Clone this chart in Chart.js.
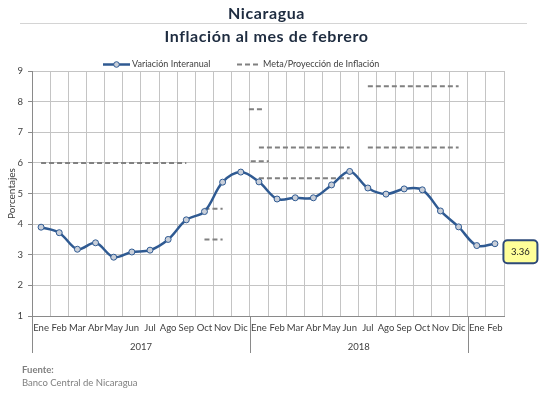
<!DOCTYPE html>
<html lang="es">
<head>
<meta charset="utf-8">
<title>Nicaragua - Inflación al mes de febrero</title>
<script src="https://cdn.jsdelivr.net/npm/chart.js@4.4.1/dist/chart.umd.min.js"></script>
<style>
  html, body { margin: 0; padding: 0; background: #ffffff; }
  #wrap { position: relative; width: 543px; height: 395px; }
</style>
</head>
<body>
<div id="wrap"><canvas id="inflacion-chart" width="543" height="395"></canvas></div>
<script>
// --- Datos ---
const meses = ['Ene','Feb','Mar','Abr','May','Jun','Jul','Ago','Sep','Oct','Nov','Dic',
               'Ene','Feb','Mar','Abr','May','Jun','Jul','Ago','Sep','Oct','Nov','Dic',
               'Ene','Feb'];
const anios = [ { label: '2017', desde: 0, hasta: 11 },
                { label: '2018', desde: 12, hasta: 23 },
                { label: '', desde: 24, hasta: 25 } ];
const yTicks = [1, 2, 3, 4, 5, 6, 7, 8, 9];

const variacionInteranual = [3.90, 3.72, 3.18, 3.39, 2.92, 3.09, 3.15, 3.50, 4.14, 4.41, 5.37, 5.70,
                             5.38, 4.82, 4.86, 4.86, 5.28, 5.72, 5.18, 4.98, 5.15, 5.12, 4.43, 3.91,
                             3.30, 3.36];

// Metas / proyecciones (null = sin dato)
const meta2017     = [6, 6, 6, 6, 6, 6, 6, 6, 6, null, null, null, null, null, null, null, null, null, null, null, null, null, null, null, null, null];
const metaOctAlta  = [null, null, null, null, null, null, null, null, null, 4.5, 4.5, null, null, null, null, null, null, null, null, null, null, null, null, null, null, null];
const metaOctBaja  = [null, null, null, null, null, null, null, null, null, 3.5, 3.5, null, null, null, null, null, null, null, null, null, null, null, null, null, null, null];
const meta2018Alta = [null, null, null, null, null, null, null, null, null, null, null, null, 6.5, 6.5, 6.5, 6.5, 6.5, 6.5, null, null, null, null, null, null, null, null];
const meta2018Baja = [null, null, null, null, null, null, null, null, null, null, null, null, 5.5, 5.5, 5.5, 5.5, 5.5, 5.5, null, null, null, null, null, null, null, null];
const proySegAlta  = [null, null, null, null, null, null, null, null, null, null, null, null, null, null, null, null, null, null, 8.5, 8.5, 8.5, 8.5, 8.5, 8.5, null, null];
const proySegBaja  = [null, null, null, null, null, null, null, null, null, null, null, null, null, null, null, null, null, null, 6.5, 6.5, 6.5, 6.5, 6.5, 6.5, null, null];
// Tramos cortos alrededor de dic-2017 / ene-2018 (posición en meses, valor)
const proyDicAlta = [ { x: 11.45, y: 7.75 }, { x: 12.25, y: 7.75 } ];
const proyDicBaja = [ { x: 11.55, y: 6.05 }, { x: 12.55, y: 6.05 } ];

const ultimoValor = 3.36;

// --- Colores ---
const colors = {
  serie: '#2F5A92',
  marcador: '#C9CFD9',
  meta: '#808080',
  grid: '#C4C4C4',
  eje: '#8A8A8A',
  texto: '#404040',
  titulo: '#1E2C40',
  fuente: '#7F7F7F',
  etiqueta: '#FFFF99',
};

const FONT = 'Lato, "Open Sans", "DejaVu Sans", sans-serif';

function metaDataset(data, xAxis) {
  return {
    label: 'Meta/Proyección de Inflación',
    data,
    xAxisID: xAxis || 'x',
    borderColor: colors.meta,
    borderWidth: 2,
    borderDash: [5, 3],
    pointRadius: 0,
    fill: false,
    spanGaps: false,
    tension: 0,
    order: 2,
  };
}

// --- Plugin: títulos, leyenda, años y fuente ---
const decoracion = {
  id: 'decoracion',
  afterDraw(chart) {
    const ctx = chart.ctx;
    const xs = chart.scales.x;
    const area = chart.chartArea;
    ctx.save();

    // Títulos
    ctx.fillStyle = colors.titulo;
    ctx.textAlign = 'center';
    ctx.textBaseline = 'alphabetic';
    ctx.font = 'bold 16px ' + FONT;
    ctx.letterSpacing = '0.6px';
    ctx.fillText('Nicaragua', 266.5, 19);
    ctx.fillText('Inflación al mes de febrero', 266.5, 42);
    ctx.letterSpacing = '0px';
    ctx.strokeStyle = '#D4D4D4';
    ctx.lineWidth = 1;
    ctx.beginPath();
    ctx.moveTo(20, 23.5);
    ctx.lineTo(527, 23.5);
    ctx.stroke();

    // Leyenda
    const ly = 64.5;
    ctx.strokeStyle = colors.serie;
    ctx.lineWidth = 2.5;
    ctx.beginPath();
    ctx.moveTo(103, ly);
    ctx.lineTo(130, ly);
    ctx.stroke();
    ctx.beginPath();
    ctx.arc(116.5, ly, 2.8, 0, Math.PI * 2);
    ctx.fillStyle = colors.marcador;
    ctx.fill();
    ctx.lineWidth = 1;
    ctx.stroke();
    ctx.strokeStyle = colors.meta;
    ctx.lineWidth = 2;
    ctx.setLineDash([5, 3]);
    ctx.beginPath();
    ctx.moveTo(237, ly);
    ctx.lineTo(259, ly);
    ctx.stroke();
    ctx.setLineDash([]);
    ctx.fillStyle = colors.texto;
    ctx.textAlign = 'left';
    ctx.textBaseline = 'middle';
    ctx.font = '9px ' + FONT;
    ctx.fillText('Variación Interanual', 132, ly);
    ctx.fillText('Meta/Proyección de Inflación', 263, ly);

    // Años bajo los meses y separadores
    const w = (area.right - area.left) / meses.length;
    ctx.strokeStyle = colors.eje;
    ctx.lineWidth = 1;
    ctx.textAlign = 'center';
    ctx.font = '9.5px ' + FONT;
    anios.forEach(a => {
      const x0 = xs.getPixelForValue(a.desde) - w / 2;
      const x1 = xs.getPixelForValue(a.hasta) + w / 2;
      ctx.beginPath();
      ctx.moveTo(Math.round(x0) + 0.5, area.bottom);
      ctx.lineTo(Math.round(x0) + 0.5, area.bottom + 37);
      ctx.stroke();
      if (a.label) ctx.fillText(a.label, (x0 + x1) / 2, area.bottom + 31);
    });

    // Fuente
    ctx.textAlign = 'left';
    ctx.fillStyle = colors.fuente;
    ctx.font = 'bold 9.5px ' + FONT;
    ctx.fillText('Fuente:', 22, 370);
    ctx.font = '9.5px ' + FONT;
    ctx.fillText('Banco Central de Nicaragua', 22, 383);

    ctx.restore();
  }
};

// --- Plugin: etiqueta del último dato ---
const etiquetaUltimo = {
  id: 'etiquetaUltimo',
  afterDatasetsDraw(chart) {
    const meta = chart.getDatasetMeta(0);
    const p = meta.data[meta.data.length - 1];
    if (!p) return;
    const ctx = chart.ctx;
    const bx = p.x + 8.5, by = p.y - 3.5, bw = 34, bh = 23, r = 4;
    ctx.save();
    ctx.beginPath();
    ctx.roundRect(bx, by, bw, bh, r);
    ctx.fillStyle = colors.etiqueta;
    ctx.fill();
    ctx.strokeStyle = '#2E4A78';
    ctx.lineWidth = 2;
    ctx.stroke();
    ctx.fillStyle = '#222222';
    ctx.font = '9.5px ' + FONT;
    ctx.textAlign = 'center';
    ctx.textBaseline = 'middle';
    ctx.fillText(ultimoValor.toFixed(2), bx + bw / 2, by + bh / 2 + 0.5);
    ctx.restore();
  }
};

const ctx = document.getElementById('inflacion-chart').getContext('2d');
new Chart(ctx, {
  type: 'line',
  data: {
    labels: meses,
    datasets: [
      {
        label: 'Variación Interanual',
        data: variacionInteranual,
        borderColor: colors.serie,
        borderWidth: 2.5,
        pointBackgroundColor: colors.marcador,
        pointBorderColor: colors.serie,
        pointBorderWidth: 1,
        pointRadius: 3,
        tension: 0.35,
        fill: false,
        order: 0,
      },
      metaDataset(meta2017),
      metaDataset(metaOctAlta),
      metaDataset(metaOctBaja),
      metaDataset(meta2018Alta),
      metaDataset(meta2018Baja),
      metaDataset(proySegAlta),
      metaDataset(proySegBaja),
      metaDataset(proyDicAlta, 'xm'),
      metaDataset(proyDicBaja, 'xm'),
    ]
  },
  options: {
    responsive: false,
    animation: false,
    layout: { padding: { left: 0, top: 71, right: 39, bottom: 0 } },
    plugins: { legend: { display: false }, tooltip: { enabled: false }, title: { display: false } },
    scales: {
      x: {
        type: 'category',
        offset: true,
        grid: { offset: true, color: colors.grid, drawTicks: false },
        border: { color: colors.eje },
        ticks: { color: colors.texto, font: { family: FONT, size: 9.5 }, padding: 6, autoSkip: false, maxRotation: 0 },
        afterFit: (s) => { s.height = 79; }
      },
      xm: {
        type: 'linear',
        display: false,
        min: -0.5,
        max: meses.length - 0.5,
      },
      y: {
        min: yTicks[0],
        max: yTicks[yTicks.length - 1],
        afterBuildTicks: (s) => { s.ticks = yTicks.map(v => ({ value: v })); },
        grid: { color: colors.grid, tickLength: 4, tickColor: colors.eje },
        border: { color: colors.eje },
        ticks: { color: colors.texto, font: { family: FONT, size: 9.5 }, padding: 5 },
        title: { display: true, text: 'Porcentajes', color: colors.texto, font: { family: FONT, size: 10 }, padding: { top: 6, bottom: 0 } },
        afterFit: (s) => { s.width = 32; }
      }
    }
  },
  plugins: [decoracion, etiquetaUltimo]
});
</script>
</body>
</html>
